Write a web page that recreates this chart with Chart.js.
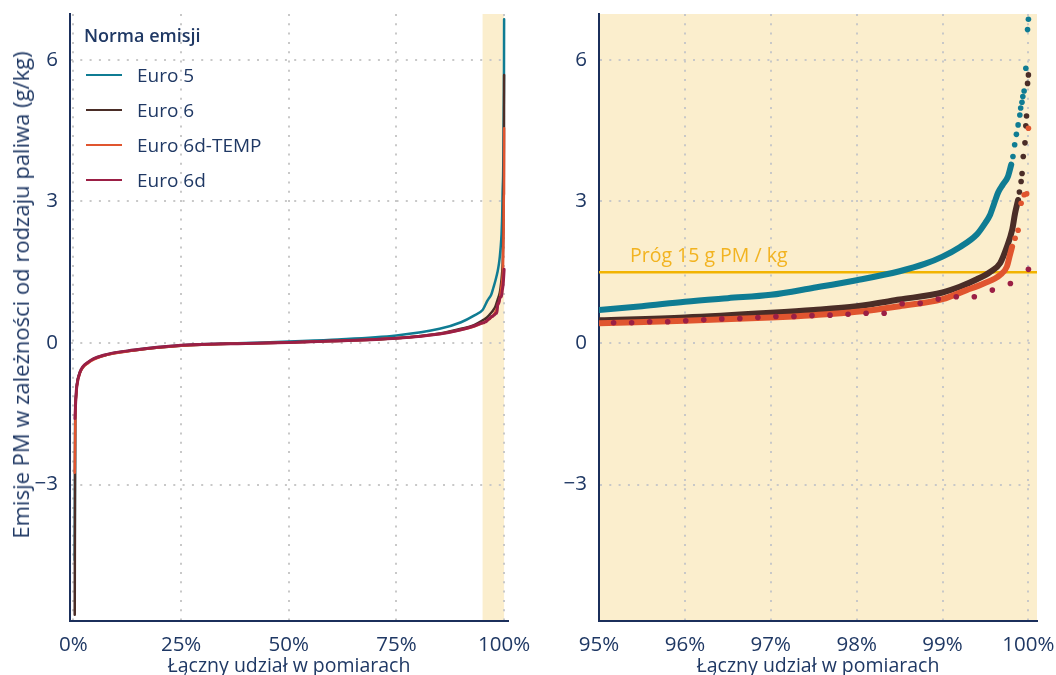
<!DOCTYPE html>
<html>
<head>
<meta charset="utf-8">
<script src="https://cdn.jsdelivr.net/npm/chart.js@4.4.1/dist/chart.umd.min.js"></script>
<style>
  body { margin: 0; width: 1056px; height: 675px; background: #fff; position: relative; overflow: hidden;
         font-family: "Open Sans", sans-serif; color: #1f3864; }
  canvas { position: absolute; top: 0; }
  #left { left: 0; }
  #right { left: 540px; }
  .txt { position: absolute; white-space: nowrap; line-height: 24px; }
  .sw { position: absolute; left: -51px; top: 11px; width: 36px; height: 2px; }
  #ytitle { position: absolute; left: 20px; top: 295px; transform: translate(-50%, -50%) rotate(-90deg);
            white-space: nowrap; font-size: 22px; }
</style>
</head>
<body>
<canvas id="left" width="540" height="675"></canvas>
<canvas id="right" width="516" height="675"></canvas>

<div id="ytitle">Emisje PM w zależności od rodzaju paliwa (g/kg)</div>

<div class="txt" style="left:84px; top:23px; font-size:18px; font-weight:600;">Norma emisji</div>
<div class="txt" style="left:137px; top:63px; font-size:19px;"><span class="sw" style="background:#0f7c93"></span>Euro 5</div>
<div class="txt" style="left:137px; top:98px; font-size:19px;"><span class="sw" style="background:#4a2d27"></span>Euro 6</div>
<div class="txt" style="left:137px; top:133px; font-size:19px;"><span class="sw" style="background:#e0552f"></span>Euro 6d-TEMP</div>
<div class="txt" style="left:137px; top:168px; font-size:19px;"><span class="sw" style="background:#9b1f45"></span>Euro 6d</div>

<div class="txt" style="left:630px; top:243px; font-size:19.5px; color:#f2b320;">Próg 15 g PM / kg</div>

<script>
const euro5Low = [[0.3,-4.6],[0.4,-1.6],[0.6,-1.1],[0.8,-0.88],[1.5,-0.62],[3.5,-0.4],[7,-0.26],[14,-0.15],[25,-0.05],[40,0.0],[50,0.03],[60,0.07],[75,0.16],[85,0.3],[90,0.44],[93,0.58]];
const euro5Dense = [[95,0.70],[95.5,0.78],[96,0.875],[96.5,0.95],[97,1.02],[97.5,1.17],[98,1.33],[98.5,1.52],[98.8,1.68],[99,1.83],[99.2,2.03],[99.4,2.3],[99.5,2.55],[99.55,2.7],[99.6,2.95],[99.65,3.2],[99.7,3.35],[99.76,3.52],[99.8,3.78]];
const euro5Tail = [[99.82,3.95],[99.84,4.2],[99.86,4.42],[99.88,4.62],[99.9,4.83],[99.91,4.98],[99.925,5.1],[99.935,5.22],[99.95,5.34],[99.97,5.82],[99.99,6.64],[100,6.86]];

const euro6Low = [[0.3,-5.76],[0.4,-1.7],[0.6,-1.15],[0.8,-0.9],[1.5,-0.63],[3.5,-0.41],[7,-0.27],[14,-0.16],[25,-0.06],[40,-0.01],[50,0.01],[60,0.04],[75,0.1],[85,0.2],[90,0.3],[93,0.38]];
const euro6Dense = [[95,0.48],[96,0.54],[97,0.64],[97.5,0.70],[98,0.78],[98.5,0.92],[99,1.07],[99.2,1.19],[99.4,1.35],[99.55,1.5],[99.67,1.69],[99.75,2.04],[99.81,2.39],[99.845,2.75],[99.88,3.03]];
const euro6Tail = [[99.895,3.2],[99.915,3.42],[99.926,3.59],[99.94,3.95],[99.96,4.24],[99.97,4.6],[99.978,4.81],[99.99,5.5],[100,5.68]];

const euro6dTempLow = [[0.3,-2.75],[0.45,-1.5],[0.6,-1.15],[0.8,-0.92],[1.5,-0.64],[3.5,-0.42],[7,-0.27],[14,-0.16],[25,-0.06],[40,-0.01],[50,0.01],[60,0.04],[75,0.1],[85,0.19],[90,0.28],[93,0.35]];
const euro6dTempDense = [[95,0.42],[96,0.47],[97,0.54],[97.5,0.59],[98,0.66],[98.5,0.78],[99,0.93],[99.28,1.12],[99.48,1.26],[99.67,1.44],[99.75,1.62],[99.78,1.83],[99.81,2.04]];
const euro6dTempTail = [[99.845,2.22],[99.88,2.39],[99.915,2.96],[99.95,3.14],[99.98,3.16],[100,4.55]];

const euro6dLow = [[0.35,-1.6],[0.6,-1.1],[0.8,-0.9],[1.5,-0.62],[3.5,-0.4],[7,-0.26],[14,-0.15],[25,-0.05],[40,-0.01],[50,0.01],[60,0.04],[75,0.1],[85,0.19],[90,0.28],[93,0.36]];
const euro6dPoints = [[95.17,0.43],[95.38,0.43],[95.59,0.45],[95.8,0.45],[96.01,0.47],[96.22,0.49],[96.43,0.51],[96.64,0.52],[96.85,0.54],[97.06,0.56],[97.27,0.56],[97.48,0.58],[97.69,0.59],[97.9,0.61],[98.11,0.63],[98.32,0.63],[98.53,0.83],[98.74,0.84],[98.95,0.93],[99.16,0.98],[99.37,0.98],[99.58,1.12],[99.79,1.26],[100,1.56]];

const threshold = 1.5;
const band = [95, 100];
const yTicks = [-3, 0, 3, 6];
const xTicksLeft = [0, 25, 50, 75, 100];
const xTicksRight = [95, 96, 97, 98, 99, 100];

const colors = { e5: "#0f7c93", e6: "#4a2d27", e6dt: "#e0552f", e6d: "#9b1f45", gold: "#f2b300" };
const navy = "#1f3864";
const yMin = -5.89, yMax = 6.97;

const shade = {
  id: "shade",
  beforeDraw(chart, args, opts) {
    const { ctx, chartArea, scales } = chart;
    const x1 = scales.x.getPixelForValue(opts.from);
    const x2 = scales.x.getPixelForValue(opts.to);
    ctx.save();
    ctx.fillStyle = "#fbeecd";
    ctx.fillRect(x1, chartArea.top, x2 - x1, chartArea.bottom - chartArea.top);
    ctx.restore();
  }
};

function xScale(min, max, ticks) {
  return {
    type: "linear", min: min, max: max,
    afterBuildTicks: s => { s.ticks = ticks.map(v => ({ value: v })); },
    afterFit: s => { s.height = 54; s.paddingLeft = 0; s.paddingRight = 0; },
    grid: { color: "#c8c8c8", lineWidth: 2, drawTicks: false },
    border: { color: "#1b2f5b", width: 2, dash: [2, 7.3] },
    ticks: { color: navy, font: { family: "Open Sans", size: 20.5 }, padding: 12, maxRotation: 0,
             callback: v => v + "%" },
    title: { display: true, text: "Łączny udział w pomiarach", color: navy,
             font: { family: "Open Sans", size: 19.5, lineHeight: 1.0 }, padding: { top: 0, bottom: -1 } }
  };
}

function yScale(width) {
  return {
    type: "linear", min: yMin, max: yMax,
    afterBuildTicks: s => { s.ticks = yTicks.map(v => ({ value: v })); },
    afterFit: s => { s.width = width; s.paddingTop = 0; s.paddingBottom = 0; },
    grid: { color: "#c8c8c8", lineWidth: 2, drawTicks: false },
    border: { color: "#1b2f5b", width: 2, dash: [2, 7.3] },
    ticks: { color: navy, font: { family: "Open Sans", size: 20.5 }, padding: 12,
             callback: v => v < 0 ? "\u2212" + Math.abs(v) : String(v) }
  };
}

function line(data, color, width, order) {
  return { data: data, borderColor: color, backgroundColor: color, borderWidth: width,
           pointRadius: 0, cubicInterpolationMode: "monotone", borderCapStyle: "round",
           borderJoinStyle: "round", order: order };
}
function dots(data, color, r, order) {
  return { data: data, showLine: false, backgroundColor: color, borderWidth: 0,
           pointRadius: r, order: order };
}

const common = {
  responsive: false, animation: false,
  plugins: { legend: { display: false }, tooltip: { enabled: false } }
};

new Chart(document.getElementById("left"), {
  type: "line",
  data: {
    datasets: [
      line(euro6dLow.concat(euro6dPoints), colors.e6d, 3, 1),
      line(euro6dTempLow.concat(euro6dTempDense, euro6dTempTail), colors.e6dt, 2.5, 2),
      line(euro6Low.concat(euro6Dense, euro6Tail), colors.e6, 2.5, 3),
      line(euro5Low.concat(euro5Dense, euro5Tail), colors.e5, 2.5, 4)
    ]
  },
  options: Object.assign({}, common, {
    layout: { padding: { top: 14, right: 32, left: 0, bottom: 0 } },
    scales: { x: xScale(-0.8, 100.9, xTicksLeft), y: yScale(70) },
    plugins: Object.assign({}, common.plugins, { shade: { from: band[0], to: band[1] } })
  }),
  plugins: [shade]
});

new Chart(document.getElementById("right"), {
  type: "line",
  data: {
    datasets: [
      dots(euro6dPoints, colors.e6d, 2.8, 1),
      line(euro6dTempDense, colors.e6dt, 6, 2),
      dots(euro6dTempTail, colors.e6dt, 2.8, 2),
      line(euro6Dense, colors.e6, 6, 3),
      dots(euro6Tail, colors.e6, 2.8, 3),
      line(euro5Dense, colors.e5, 6, 4),
      dots(euro5Tail, colors.e5, 2.8, 4),
      line([[95, threshold], [100.1, threshold]], colors.gold, 2.5, 5)
    ]
  },
  options: Object.assign({}, common, {
    layout: { padding: { top: 14, right: 19, left: 0, bottom: 0 } },
    scales: { x: xScale(95, 100.1, xTicksRight), y: yScale(59) },
    plugins: Object.assign({}, common.plugins, { shade: { from: 95, to: 100.1 } })
  }),
  plugins: [shade]
});
</script>
</body>
</html>
